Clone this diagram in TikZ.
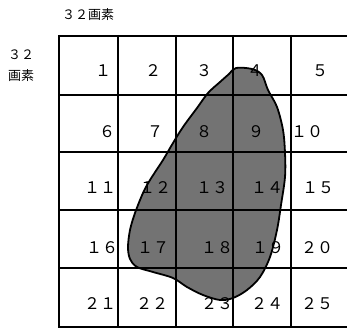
\documentclass[tikz,border=0pt]{standalone}
\usepackage{fontspec}
\setmainfont{Noto Sans CJK JP}
\definecolor{blobfill}{gray}{0.45}
\begin{document}
\begin{tikzpicture}[x=1pt,y=-1pt,
  num/.style={font=\fontsize{16}{16}\selectfont, inner sep=0pt},
  lbl/.style={font=\fontsize{13}{13}\selectfont, inner sep=0pt},
  gridline/.style={line width=1.8pt},
  blob/.style={fill=blobfill, draw=black, line width=1.8pt, line join=round}]
\useasboundingbox (0,0) rectangle (347,329);
% shaded region
\draw[blob] plot[smooth cycle, tension=0.55] coordinates {
  (236,68) (252,69) (262,75) (268,90) (277,107) (283,130) (285,153)
  (285,177) (281,205) (277,230) (270,257) (260,277) (247,290) (233,298)
  (220,300) (203,295) (187,287) (173,278) (153,272) (137,267) (130,259)
  (128,247) (130,230) (135,213) (143,193) (150,180) (163,160) (173,143)
  (183,127) (197,108) (208,93) (220,82) (229,74)};
% grid
\foreach \x in {59,118,176,233,291,349} \draw[gridline] (\x,35) -- (\x,328);
\foreach \y in {36,95,152,210,268,327} \draw[gridline] (58,\y) -- (350,\y);
% labels
\node[lbl] (top) at (88,14.5) {３２画素};
\node[lbl, anchor=west] (left1) at (8,55) {３２};
\node[lbl, anchor=west] (left2) at (8,76) {画素};
% numbers
\node[num] (n1) at (103,71) {１};
\node[num] (n2) at (153,71) {２};
\node[num] (n3) at (204,71) {３};
\node[num] (n4) at (255,71) {４};
\node[num] (n5) at (320,71) {５};
\node[num] (n6) at (107,132) {６};
\node[num] (n7) at (155,132) {７};
\node[num] (n8) at (204,132) {８};
\node[num] (n9) at (256,132) {９};
\node[num] (n10) at (307,132) {１０};
\node[num] (n11) at (100,188) {１１};
\node[num] (n12) at (155,188) {１２};
\node[num] (n13) at (212,188) {１３};
\node[num] (n14) at (267,188) {１４};
\node[num] (n15) at (318,188) {１５};
\node[num] (n16) at (102,248) {１６};
\node[num] (n17) at (153,248) {１７};
\node[num] (n18) at (217,248) {１８};
\node[num] (n19) at (268,248) {１９};
\node[num] (n20) at (317,248) {２０};
\node[num] (n21) at (100,304) {２１};
\node[num] (n22) at (152,304) {２２};
\node[num] (n23) at (217,304) {２３};
\node[num] (n24) at (267,304) {２４};
\node[num] (n25) at (317,304) {２５};
\end{tikzpicture}
\end{document}
